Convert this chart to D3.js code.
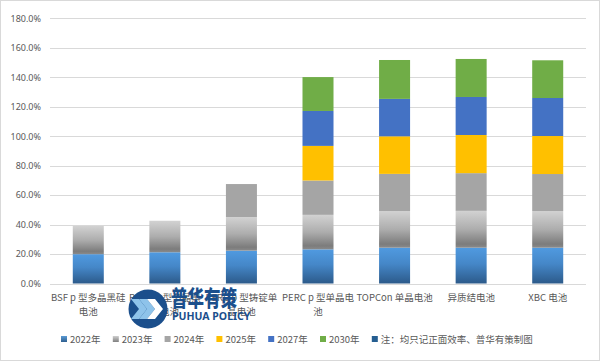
<!DOCTYPE html>
<html>
<head>
<meta charset="utf-8">
<script src="https://cdn.jsdelivr.net/npm/d3@7"></script>
<style>
  html, body { margin: 0; padding: 0; background: #fff; }
  svg { display: block; font-family: "Noto Sans CJK SC", "Noto Sans", sans-serif; }
</style>
</head>
<body>
<svg id="chart" width="601" height="361"></svg>
<script>
// ---- data ----
const categories = ["BSF p 型多晶黑硅电池", "PERC p 型多晶黑硅电池", "PERC p 型铸锭单晶电池", "PERC p 型单晶电池", "TOPCon 单晶电池", "异质结电池", "XBC 电池"];
const seriesNames = ["2022年", "2023年", "2024年", "2025年", "2027年", "2030年"];
const noteLabel = "注：均只记正面效率、普华有策制图";
const v2022 = [19.9, 21.2, 22.3, 23.2, 24.3, 24.3, 24.3];
const v2023 = [19.2, 21.4, 22.8, 23.4, 24.9, 25.0, 24.9];
const v2024 = [null, null, 22.4, 23.3, 25.2, 25.6, 25.1];
const v2025 = [null, null, null, 23.5, 25.5, 25.9, 25.8];
const v2027 = [null, null, null, 23.7, 25.4, 25.8, 25.8];
const v2030 = [null, null, null, 23.0, 26.4, 25.8, 25.6];
const yTicks = [0, 20, 40, 60, 80, 100, 120, 140, 160, 180];

const seriesValues = [v2022, v2023, v2024, v2025, v2027, v2030];
const fills = ["url(#g2022)", "url(#g2023)", "#a5a5a5", "#ffc000", "#4472c4", "#70ad47"];
const legendFills = ["url(#lg2022)", "url(#lg2023)", "#a5a5a5", "#ffc000", "#4472c4", "#70ad47", "#255e91"];

const svg = d3.select("#chart");
const W = 601, H = 361;
const m = {left: 50, right: 15, top: 18.3, bottom: 77.5};

// outer border
svg.append("rect").attr("x", 0.5).attr("y", 0.5).attr("width", W - 2).attr("height", H - 1)
  .attr("fill", "#fff").attr("stroke", "#d9d9d9");

// gradients
const defs = svg.append("defs");
function grad(id, stops) {
  const g = defs.append("linearGradient").attr("id", id).attr("x1", 0).attr("y1", 0).attr("x2", 0).attr("y2", 1);
  stops.forEach(s => g.append("stop").attr("offset", s[0]).attr("stop-color", s[1]));
}
grad("g2022", [[0, "#509ae0"], [0.45, "#4587c8"], [1, "#2c5a8a"]]);
grad("g2023", [[0, "#d2d2d2"], [0.5, "#adadad"], [0.9, "#7c7c7c"], [1, "#8a8a8a"]]);
grad("lg2022", [[0, "#5b9bd5"], [1, "#2e5f8f"]]);
grad("lg2023", [[0, "#cfcfcf"], [1, "#7f7f7f"]]);

const x = d3.scaleBand().domain(categories).range([m.left, W - m.right]).paddingInner(0.595).paddingOuter(0.2975);
const y = d3.scaleLinear().domain([0, 180]).range([H - m.bottom, m.top]);

// gridlines
svg.append("g").selectAll("line").data(yTicks).join("line")
  .attr("x1", m.left).attr("x2", W - m.right)
  .attr("y1", d => Math.round(y(d)) + 0.5).attr("y2", d => Math.round(y(d)) + 0.5)
  .attr("stroke", "#d9d9d9").attr("stroke-width", 1);

// y axis labels
const yAxis = d3.axisLeft(y).tickValues(yTicks).tickFormat(d => d3.format(".1f")(d) + "%").tickSize(0).tickPadding(9);
const gy = svg.append("g").attr("transform", `translate(${m.left},0)`).call(yAxis);
gy.select(".domain").remove();
gy.selectAll("text").attr("fill", "#595959").attr("font-size", 9).attr("font-family", "'Noto Sans', sans-serif");

// stacked bars
const stackData = categories.map((c, i) => {
  const o = {cat: c};
  seriesNames.forEach((s, k) => o[s] = seriesValues[k][i] || 0);
  return o;
});
const stacked = d3.stack().keys(seriesNames)(stackData);
svg.append("g").selectAll("g").data(stacked).join("g")
  .attr("fill", (d, k) => fills[k])
  .selectAll("rect").data(d => d.filter(p => p[1] - p[0] > 0)).join("rect")
  .attr("x", d => x(d.data.cat))
  .attr("width", x.bandwidth())
  .attr("y", d => y(d[1]))
  .attr("height", d => y(d[0]) - y(d[1]));

// x axis line
svg.append("line").attr("x1", m.left).attr("x2", W - m.right)
  .attr("y1", Math.round(y(0)) + 0.5).attr("y2", Math.round(y(0)) + 0.5)
  .attr("stroke", "#d9d9d9");

// x labels with wrapping
const xl = svg.append("g");
const fsX = 9.5;
categories.forEach(c => {
  const cx = x(c) + x.bandwidth() / 2;
  const t = xl.append("text").attr("text-anchor", "middle").attr("fill", "#595959").attr("font-size", fsX)
    .attr("x", cx).attr("y", 300.5);
  const maxW = 79;
  const chars = Array.from(c);
  let lines = [], cur = "";
  const probe = xl.append("text").attr("font-size", fsX).attr("visibility", "hidden");
  chars.forEach(ch => {
    probe.text(cur + ch);
    if (probe.node().getComputedTextLength() > maxW && cur.length) {
      lines.push(cur); cur = ch.trim() ? ch : "";
    } else cur += ch;
  });
  if (cur) lines.push(cur);
  probe.remove();
  lines.forEach((ln, i) => t.append("tspan").attr("x", cx).attr("dy", i ? 14.5 : 0).text(ln));
});

// watermark logo
const wm = svg.append("g");
wm.append("circle").attr("cx", 148).attr("cy", 309).attr("r", 19.5).attr("fill", "#1b4f8c");
[0, 8, 16].forEach(dx => {
  wm.append("path")
    .attr("d", `M${131 + dx},299 L${139 + dx},299 L${147 + dx},309 L${139 + dx},319 L${131 + dx},319 L${139 + dx},309 Z`)
    .attr("fill", dx === 16 ? "#ffffff" : "#8ec3ea");
});
wm.append("text").attr("x", 171).attr("y", 306)
  .attr("transform", "translate(171,306) scale(1,1.3) translate(-171,-306)")
  .attr("font-size", 16.5).attr("font-weight", 900)
  .attr("fill", "#1b4f8c").text("普华有策");
wm.append("text").attr("x", 172).attr("y", 320).attr("font-size", 10.5).attr("font-weight", 700)
  .attr("font-family", "'Noto Sans', sans-serif")
  .attr("fill", "#1b4f8c").text("PUHUA POLICY");

// legend
const legendItems = seriesNames.concat([noteLabel]);
const lg = svg.append("g");
legendItems.forEach((name, i) => {
  const lx = 61 + i * 51.8;
  lg.append("rect").attr("x", lx).attr("y", 336).attr("width", 6).attr("height", 6).attr("fill", legendFills[i]);
  lg.append("text").attr("x", lx + 9).attr("y", 342.5).attr("font-size", 9.5).attr("fill", "#595959").text(name);
});
</script>
</body>
</html>
